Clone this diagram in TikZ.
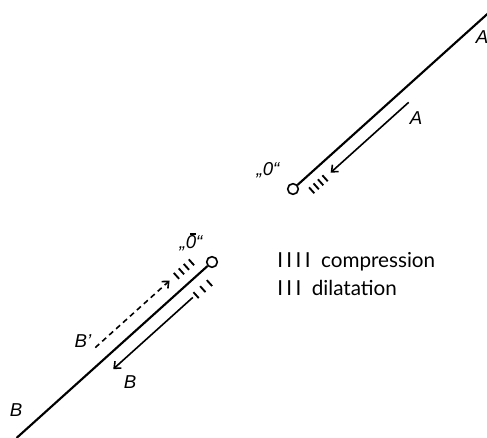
\documentclass[tikz,border=0pt]{standalone}
\usepackage{fontspec}
\setmainfont{Liberation Sans}
\newfontfamily\legendfont{Lato}
\usetikzlibrary{arrows.meta}
\begin{document}
\begin{tikzpicture}[x=0.75pt,y=-0.75pt,
  mainline/.style={line width=1.6pt},
  arr/.style={line width=1.2pt,-{Straight Barb[length=4pt,width=7pt]}},
  dasharr/.style={arr,dash pattern=on 4pt off 3pt},
  hatch/.style={line width=1.4pt},
  origin/.style={circle,draw,line width=1.2pt,minimum size=8pt,inner sep=0pt},
  lab/.style={font=\fontsize{14}{16}\selectfont\itshape,inner sep=0pt},
  leg/.style={font=\legendfont\fontsize{15.5}{18}\selectfont,inner sep=0pt,anchor=west}]
\useasboundingbox (0,0) rectangle (487,438);
% upper part
\begin{scope}[shift={(293,189)},rotate=42]
  \node[origin] (o1) at (0,0) {};
  \coordinate (e1) at (262,0);
  \coordinate (as) at (144,13);
  \coordinate (ae) at (39,13);
  \foreach \u in {13,19,25,31}{\draw[hatch] (\u,9.5) -- (\u,17.5);}
\end{scope}
\draw[mainline] (o1) -- (e1);
\draw[arr] (as) -- (ae);
% lower part
\begin{scope}[shift={(212,262)},rotate=42]
  \node[origin] (o2) at (0,0) {};
  \coordinate (e2) at (-263,0);
  \coordinate (bs) at (-38,13.5);
  \coordinate (be) at (-145,13.5);
  \coordinate (ds) at (-144,-14.5);
  \coordinate (de) at (-44,-14.5);
  \foreach \u in {-35.7,-29,-22.3,-15.5}{\draw[hatch] (\u,-17.5) -- (\u,-9.5);}
  \foreach \u in {-34,-25,-16}{\draw[hatch] (\u,10) -- (\u,18);}
\end{scope}
\draw[mainline] (o2) -- (e2);
\draw[arr] (bs) -- (be);
\draw[dasharr] (ds) -- (de);
% labels
\node[lab] (la1) at (482,37) {A};
\node[lab] (la2) at (416,118) {A};
\node[lab] (lo1) at (268,170) {„0“};
\node[lab] (lo2) at (191,242) {„0\llap{\raisebox{0.74em}{\rule{0.32em}{0.07em}}\kern0.02em}“};
\node[lab] (lbp) at (83,341) {B’};
\node[lab] (lb) at (130,382) {B};
\node[lab] (lb2) at (16,410) {B};
\node[leg] (leg1) at (277,262) {I\,I\,I\,I\hspace{0.5em}compression};
\node[leg] (leg2) at (277,288) {I\,I\,I\hspace{0.5em}dilatation};
\end{tikzpicture}
\end{document}
